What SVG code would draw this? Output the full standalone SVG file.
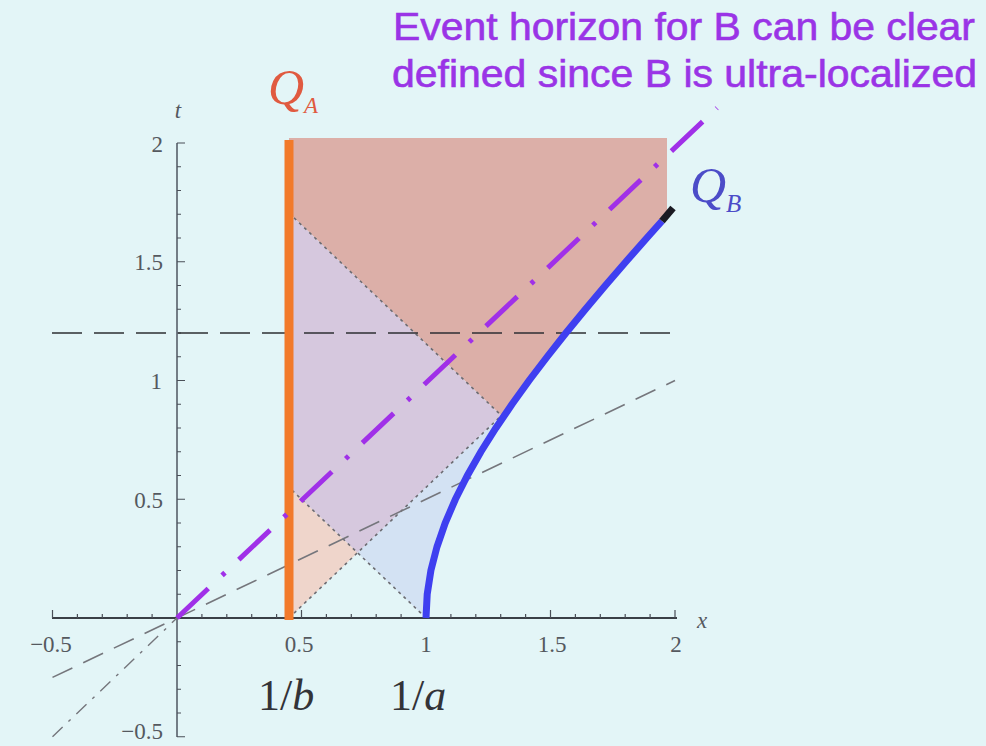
<svg xmlns="http://www.w3.org/2000/svg" width="986" height="746" viewBox="0 0 986 746">
<defs>
<style>
.tick{stroke:#4a4f58;stroke-width:1.2;fill:none}
.axis{stroke:#3a3f46;stroke-width:1.8;fill:none}
.dot{stroke:#6c6c72;stroke-width:1.6;stroke-dasharray:3 4;fill:none}
.lbl{font-family:"Liberation Serif","Times New Roman",serif;font-size:23px;fill:#55595f}
.big{font-family:"Liberation Serif","Times New Roman",serif;font-size:44px;fill:#333338}
.note{font-family:"Liberation Sans",Arial,sans-serif;font-size:38px;fill:#9a34e6;stroke:#9a34e6;stroke-width:0.6}
</style>
</defs>
<rect x="0" y="0" width="986" height="746" fill="#e3f5f7"/>
<g id="regions">
<polygon id="region-salmon" fill="#dcafa8" points="289,138 667,138 667,215 646.8,238 625.9,261.75 605.4,285.5 585.4,309.25 565.9,333 547.2,356.75 529.1,380.5 512,404.25 503.1,417.2 289,213.1"/>
<polygon id="region-lavender" fill="#d6c8de" points="289,213.1 501.3,415.5 357.5,552.7 289,487.4"/>
<polygon id="region-peach" fill="#efd5cb" points="289,618 357.5,552.7 289,487.4"/>
<polygon id="region-blue" fill="#d3e2f3" points="426,618 357.5,552.7 509.7,407.6 495.9,428 480.9,451.75 467.4,475.5 455.4,499.25 445.2,523 437,546.75 430.9,570.5 427.2,594.25"/>
</g>
<g id="lightcones">
<line class="dot" x1="289" y1="618" x2="509.7" y2="407.6"/>
<line class="dot" x1="426" y1="618" x2="289" y2="487.4"/>
<line class="dot" x1="289" y1="213.1" x2="503.1" y2="417.2"/>
</g>
<g id="axes">
<line class="axis" x1="52" y1="618" x2="677" y2="618"/>
<line class="axis" x1="177" y1="143" x2="177" y2="737" style="stroke:#4e5560;stroke-width:1.5"/>
<path class="tick" d="M52.5 618V610M77.4 618V614M102.3 618V614M127.2 618V614M152.1 618V614M201.9 618V614M226.8 618V614M251.7 618V614M276.6 618V614M301.5 618V610M326.4 618V614M351.3 618V614M376.2 618V614M401.1 618V614M426 618V610M450.9 618V614M475.8 618V614M500.7 618V614M525.6 618V614M550.5 618V610M575.4 618V614M600.3 618V614M625.2 618V614M650.1 618V614M675 618V610"/>
<path class="tick" d="M177 736.75H185M177 713H181M177 689.25H181M177 665.5H181M177 641.75H181M177 594.25H181M177 570.5H181M177 546.75H181M177 523H181M177 499.25H185M177 475.5H181M177 451.75H181M177 428H181M177 404.25H181M177 380.5H185M177 356.75H181M177 333H181M177 309.25H181M177 285.5H181M177 261.75H185M177 238H181M177 214.25H181M177 190.5H181M177 166.75H181M177 143H185"/>
<g id="tick-labels">
<text class="lbl" x="51" y="652" text-anchor="middle">−0.5</text>
<text class="lbl" x="299" y="652" text-anchor="middle">0.5</text>
<text class="lbl" x="426" y="652" text-anchor="middle">1</text>
<text class="lbl" x="552" y="652" text-anchor="middle">1.5</text>
<text class="lbl" x="676" y="652" text-anchor="middle">2</text>
<text class="lbl" x="163" y="152" text-anchor="end">2</text>
<text class="lbl" x="163" y="270" text-anchor="end">1.5</text>
<text class="lbl" x="162" y="389" text-anchor="end">1</text>
<text class="lbl" x="163" y="508" text-anchor="end">0.5</text>
<text class="lbl" x="163" y="739" text-anchor="end">−0.5</text>
</g>
<text class="lbl" x="702" y="628" font-style="italic" text-anchor="middle">x</text>
<text class="lbl" x="178" y="118" font-style="italic" text-anchor="middle">t</text>
</g>
<g id="connectors">
<line x1="52.5" y1="677.4" x2="675" y2="380.5" stroke="#75767c" stroke-width="1.6" stroke-dasharray="22 12"/>
<line x1="52.5" y1="736.75" x2="177" y2="618" stroke="#75767c" stroke-width="1.4" stroke-dasharray="14 8 3 8"/>
<line x1="52" y1="333" x2="677" y2="333" stroke="#2e2f33" stroke-width="1.6" stroke-dasharray="30 12"/>
</g>
<g id="worldline-A">
<line x1="289" y1="140" x2="289" y2="620" stroke="#f27a2a" stroke-width="9"/>
</g>
<g id="event-horizon">
<line x1="177" y1="618" x2="717" y2="108" stroke="#a030e8" stroke-width="5" stroke-dasharray="43 19 4 19"/>
</g>
<g id="worldline-B">
<polyline fill="none" stroke="#3f3ff0" stroke-width="7" points="426,618 427.2,594.25 430.9,570.5 437,546.75 445.2,523 455.4,499.25 467.4,475.5 480.9,451.75 495.9,428 512,404.25 529.1,380.5 547.2,356.75 565.9,333 585.4,309.25 605.4,285.5 625.9,261.75 646.8,238 662,221"/>
<line x1="662" y1="221" x2="673" y2="208" stroke="#1a1a22" stroke-width="7"/>
</g>
<g id="labels">
<text x="268" y="104" font-family="'Liberation Serif','Times New Roman',serif" font-style="italic" font-size="50" fill="#e05a40">Q<tspan font-size="23" dy="9">A</tspan></text>
<text x="690" y="202" font-family="'Liberation Serif','Times New Roman',serif" font-style="italic" font-size="50" fill="#4c4cc8">Q<tspan font-size="25" dy="10">B</tspan></text>
<text class="big" x="258" y="710">1/<tspan font-style="italic">b</tspan></text>
<text class="big" x="390" y="710">1/<tspan font-style="italic">a</tspan></text>
<text class="note" x="393" y="40" textLength="582" lengthAdjust="spacingAndGlyphs">Event horizon for B can be clear</text>
<text class="note" x="392" y="87" textLength="585" lengthAdjust="spacingAndGlyphs">defined since B is ultra-localized</text>
</g>
</svg>
